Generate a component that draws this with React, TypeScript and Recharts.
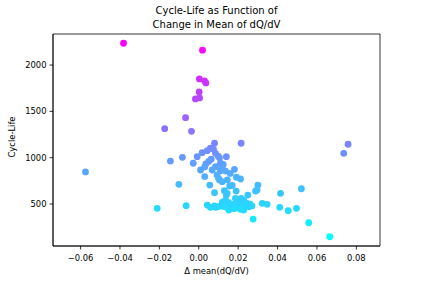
import { ScatterChart, Scatter, XAxis, YAxis, ReferenceArea } from 'recharts'

// change in mean of dQ/dV per cell
const deltaMean = [
  -0.0382, 0.0019, 0.0003, 0.0029, 0.0036, 0.0002, -0.0017, 0.0004, -0.0067, -0.0173,
  -0.0037, 0.0215, 0.008, 0.0059, 0.0043, 0.0017, -0.0008, 0.0085, 0.0098, 0.014,
  0.0063, -0.0144, -0.0083, -0.0028, 0.0036, 0.011, 0.0124, 0.0085, 0.0009, 0.0068,
  0.011, 0.0136, 0.0181, 0.003, 0.0093, 0.0056, 0.0119, 0.0191, 0.0212, -0.0101,
  0.0157, 0.008, 0.013, 0.014, 0.0249, 0.0296, 0.03, -0.0211, -0.0064, 0.0043,
  0.0059, 0.0085, 0.011, 0.0136, 0.0157, 0.0186, 0.0203, 0.0228, 0.0212, 0.0152,
  0.0178, 0.0276, 0.0758, 0.0736, 0.0415, 0.0521, 0.0322, 0.0347, 0.0411, 0.0454,
  0.0496, 0.0558, 0.0665, 0.0195, 0.0228, 0.0245, 0.0254, 0.0228, 0.0152, 0.0178,
  0.0208, -0.0575, 0.0144, 0.0288, 0.012, 0.027, 0.019, 0.0095, 0.0165, 0.0105,
  0.0075, 0.0105, 0.005, 0.012, 0.016, 0.003, 0.017, 0.019, 0.022, 0.024,
  0.013, 0.008, 0.018, 0.026, 0.0215, 0.01, 0.0145,
]

// cycle life of each cell
const cycleLife = [
  2235, 2160, 1850, 1830, 1807, 1710, 1634, 1645, 1432, 1313,
  1285, 1156, 1156, 1102, 1076, 1054, 1011, 1047, 1018, 1011,
  983, 964, 1004, 940, 932, 940, 929, 903, 867, 867,
  860, 856, 875, 796, 813, 705, 741, 789, 770, 713,
  694, 622, 644, 597, 597, 651, 705, 454, 482, 489,
  464, 464, 478, 543, 464, 562, 489, 464, 443, 514,
  500, 338, 1145, 1047, 616, 665, 508, 497, 464, 428,
  454, 298, 147, 540, 543, 508, 471, 435, 435, 478,
  454, 846, 616, 640, 520, 480, 520, 470, 480, 760,
  1090, 1000, 960, 890, 830, 900, 700, 640, 520, 480,
  470, 480, 450, 500, 560, 780, 760,
]

const xTicks = [-0.06, -0.04, -0.02, 0, 0.02, 0.04, 0.06, 0.08]
const yTicks = [500, 1000, 1500, 2000]

const data = deltaMean.map((x, i) => ({ x, y: cycleLife[i] }))

const lo = Math.min(...cycleLife)
const hi = Math.max(...cycleLife)

// matplotlib "cool" colormap
function cool(v: number) {
  const t = (v - lo) / (hi - lo)
  return `rgb(${Math.round(255 * t)},${Math.round(255 * (1 - t))},255)`
}

const font = 'DejaVu Sans, sans-serif'
const tickStyle = { fontSize: 8.4, fill: '#000', fontFamily: font }

const fmt = (v: number) => (v < 0 ? '\u2212' : '') + Math.abs(v).toFixed(2)

export default function App() {
  return (
    <div style={{ position: 'absolute', left: 0, top: 0, width: 423, height: 282, background: '#fff', fontFamily: font }}>
      <ScatterChart width={423} height={282} margin={{ top: 34, right: 43, bottom: 0, left: 0 }}>
        <XAxis
          type="number"
          dataKey="x"
          domain={[-0.074, 0.092]}
          ticks={xTicks}
          tickFormatter={fmt}
          allowDataOverflow
          height={36}
          tickSize={3.5}
          tickMargin={6}
          tick={tickStyle}
          axisLine={{ stroke: '#000', strokeWidth: 0.8 }}
          tickLine={{ stroke: '#000', strokeWidth: 0.8 }}
        />
        <YAxis
          type="number"
          dataKey="y"
          domain={[47, 2335]}
          ticks={yTicks}
          allowDataOverflow
          width={53}
          tickSize={3.5}
          tickMargin={3}
          tick={tickStyle}
          axisLine={{ stroke: '#000', strokeWidth: 0.8 }}
          tickLine={{ stroke: '#000', strokeWidth: 0.8 }}
        />
        <ReferenceArea x1={-0.074} x2={0.092} y1={47} y2={2335} fill="none" stroke="#000" strokeWidth={0.8} />
        <Scatter
          data={data}
          isAnimationActive={false}
          shape={(p: any) => <circle cx={p.cx} cy={p.cy} r={3.4} fill={cool(p.payload.y)} />}
        />
      </ScatterChart>
      <div style={{ position: 'absolute', left: 53, width: 327, top: 4, textAlign: 'center', fontSize: 10, lineHeight: '14px', color: '#000' }}>
        Cycle-Life as Function of
        <br />
        Change in Mean of dQ/dV
      </div>
      <div style={{ position: 'absolute', left: 53, width: 327, top: 265, textAlign: 'center', fontSize: 8.4, lineHeight: '12px', color: '#000' }}>
        Δ mean(dQ/dV)
      </div>
      <div
        style={{
          position: 'absolute',
          left: 12,
          top: 137,
          width: 0,
          height: 0,
          fontSize: 8.4,
          color: '#000',
        }}
      >
        <div style={{ position: 'absolute', transform: 'translate(-50%, -50%) rotate(-90deg)', whiteSpace: 'nowrap', lineHeight: '12px' }}>
          Cycle-Life
        </div>
      </div>
    </div>
  )
}
